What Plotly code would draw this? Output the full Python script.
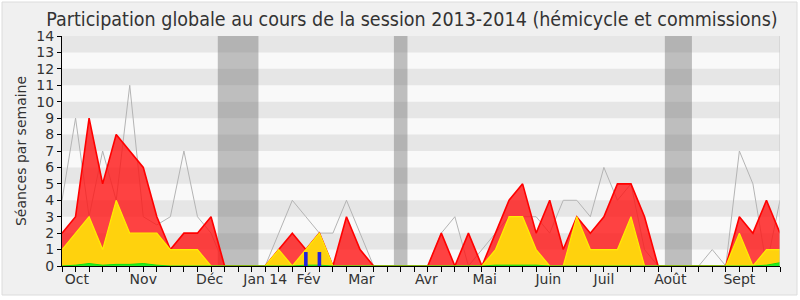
import plotly.graph_objects as go

# ---- data (one value per week, 54 weeks) ----
weeks = list(range(54))
presences = [2, 3, 9, 5, 8, 7, 6, 3, 1, 2, 2, 3, 0, 0, 0, 0, 1, 2, 1, 2,
             0, 3, 1, 0, 0, 0, 0, 0, 2, 0, 2, 0, 2, 4, 5, 2, 4, 1, 3, 2,
             3, 5, 5, 3, 0, 0, 0, 0, 0, 0, 3, 2, 4, 2]
participations = [1, 2, 3, 1, 4, 2, 2, 2, 1, 1, 1, 0, 0, 0, 0, 0, 1, 0, 1, 2,
                  0, 0, 0, 0, 0, 0, 0, 0, 0, 0, 0, 0, 1, 3, 3, 1, 0, 0, 3, 1,
                  1, 1, 3, 0, 0, 0, 0, 0, 0, 0, 2, 0, 1, 1]
questions = [0, 0.05, 0.15, 0.05, 0.1, 0.1, 0.15, 0.05, 0, 0, 0, 0, 0, 0, 0, 0, 0, 0, 0.05, 0.05,
             0, 0, 0, 0, 0, 0, 0, 0, 0, 0, 0, 0, 0.05, 0.05, 0.05, 0.05, 0, 0, 0, 0,
             0, 0, 0, 0, 0, 0, 0, 0, 0, 0, 0, 0, 0.05, 0.2]
mediane = [4, 9, 3, 7, 4, 11, 3, 2.5, 3, 7, 3, 2, 0, 0, 0, 0, 2, 4, 3, 2,
           2, 4, 2, 0, 0, 0, 0, 0, 2, 3, 0, 1, 2, 3, 3, 3, 2, 4, 4, 3,
           6, 4, 5, 1, 0, 0, 0, 0, 1, 0, 7, 5, 0, 4]
mois_bars = [0] * 54
mois_bars[18] = 0.85
mois_bars[19] = 0.85

vacation_weeks = [(12, 14), (25, 25), (45, 46)]

month_labels = ["Oct", "Nov", "Déc", "Jan 14", "Fév", "Mar", "Avr", "Mai", "Juin", "Juil", "Août", "Sept"]
month_pos = [1.1, 6.0, 10.9, 15.0, 18.2, 22.1, 26.9, 31.2, 35.9, 40.0, 44.9, 50.0]

# ---- layout geometry ----
W, H = 800, 300
L, R, T, B = 62, 20, 36, 34
pw = W - L - R
ph = H - T - B

def px_x(p):
    return (p - L) / pw

def px_y(q):
    return (H - B - q) / ph

shapes = []
# page frame
shapes.append(dict(type="rect", xref="paper", yref="paper", layer="below",
                   x0=px_x(2), x1=px_x(797), y0=px_y(295), y1=px_y(2),
                   fillcolor="#f0f0f0", line=dict(color="#dcdcdc", width=1)))
# plot background
shapes.append(dict(type="rect", xref="x", yref="y", layer="below",
                   x0=0, x1=53, y0=0, y1=14, fillcolor="#f9f9f9", line=dict(width=0)))
for k in range(1, 14, 2):
    shapes.append(dict(type="rect", xref="x", yref="y", layer="below",
                       x0=0, x1=53, y0=k, y1=k + 1, fillcolor="#e6e6e6", line=dict(width=0)))
for a, b in vacation_weeks:
    shapes.append(dict(type="rect", xref="x", yref="y", layer="below",
                       x0=a - 0.5, x1=b + 0.5, y0=0, y1=14,
                       fillcolor="rgba(110,110,110,0.42)", line=dict(width=0)))
# right edge line
shapes.append(dict(type="line", xref="x", yref="y", layer="above",
                   x0=53, x1=53, y0=0, y1=14, line=dict(color="#c8c8c8", width=1)))

fig = go.Figure()
fig.add_trace(go.Scatter(x=weeks, y=mediane, mode="lines",
                         line=dict(color="#b4b4b4", width=1), hoverinfo="skip"))
fig.add_trace(go.Scatter(x=weeks, y=presences, mode="lines", fill="tozeroy",
                         fillcolor="rgba(255,20,20,0.8)",
                         line=dict(color="#ff0000", width=1.6), hoverinfo="skip"))
fig.add_trace(go.Scatter(x=weeks, y=participations, mode="lines", fill="tozeroy",
                         fillcolor="#ffd20d",
                         line=dict(color="#ffee00", width=1.2), hoverinfo="skip"))
fig.add_trace(go.Scatter(x=weeks, y=questions, mode="lines", fill="tozeroy",
                         fillcolor="#22ee22",
                         line=dict(color="#11dd11", width=1), hoverinfo="skip"))

# blue bars drawn as thick vertical segments (so they sit above the filled areas)
bx, by = [], []
for w, v in zip(weeks, mois_bars):
    if v > 0:
        bx += [w, w, None]
        by += [0, v, None]
fig.add_trace(go.Scatter(x=bx, y=by, mode="lines",
                         line=dict(color="#2222dd", width=3.6), hoverinfo="skip"))

fig.update_layout(
    width=W, height=H,
    margin=dict(l=L, r=R, t=T, b=B),
    paper_bgcolor="white",
    plot_bgcolor="rgba(0,0,0,0)",
    showlegend=False,
    shapes=shapes,
    title=dict(text="Participation globale au cours de la session 2013-2014 (hémicycle et commissions)",
               x=412 / W, xanchor="center", xref="container",
               y=1 - 19 / H, yanchor="middle", yref="container",
               font=dict(family="DejaVu Sans Condensed, DejaVu Sans", size=19.5, color="#333333")),
    font=dict(family="DejaVu Sans", color="#333333"),
)
fig.update_xaxes(range=[0, 53], showgrid=False, zeroline=False,
                 showline=True, linecolor="black", linewidth=1,
                 tickmode="array", tickvals=month_pos, ticktext=month_labels,
                 ticks="", tickfont=dict(size=14, color="#333333"),
                 minor=dict(tickmode="linear", tick0=0, dtick=1, ticks="outside",
                            ticklen=5, tickcolor="black", tickwidth=1, showgrid=False))
fig.update_yaxes(range=[0, 14], showgrid=False, zeroline=False,
                 showline=True, linecolor="black", linewidth=1,
                 tickmode="linear", tick0=0, dtick=1, ticks="outside", ticklen=4,
                 tickcolor="black", tickfont=dict(size=14, color="#333333"),
                 title=dict(text="Séances par semaine", font=dict(size=14, color="#333333"), standoff=6))

fig.write_html("out.html")
